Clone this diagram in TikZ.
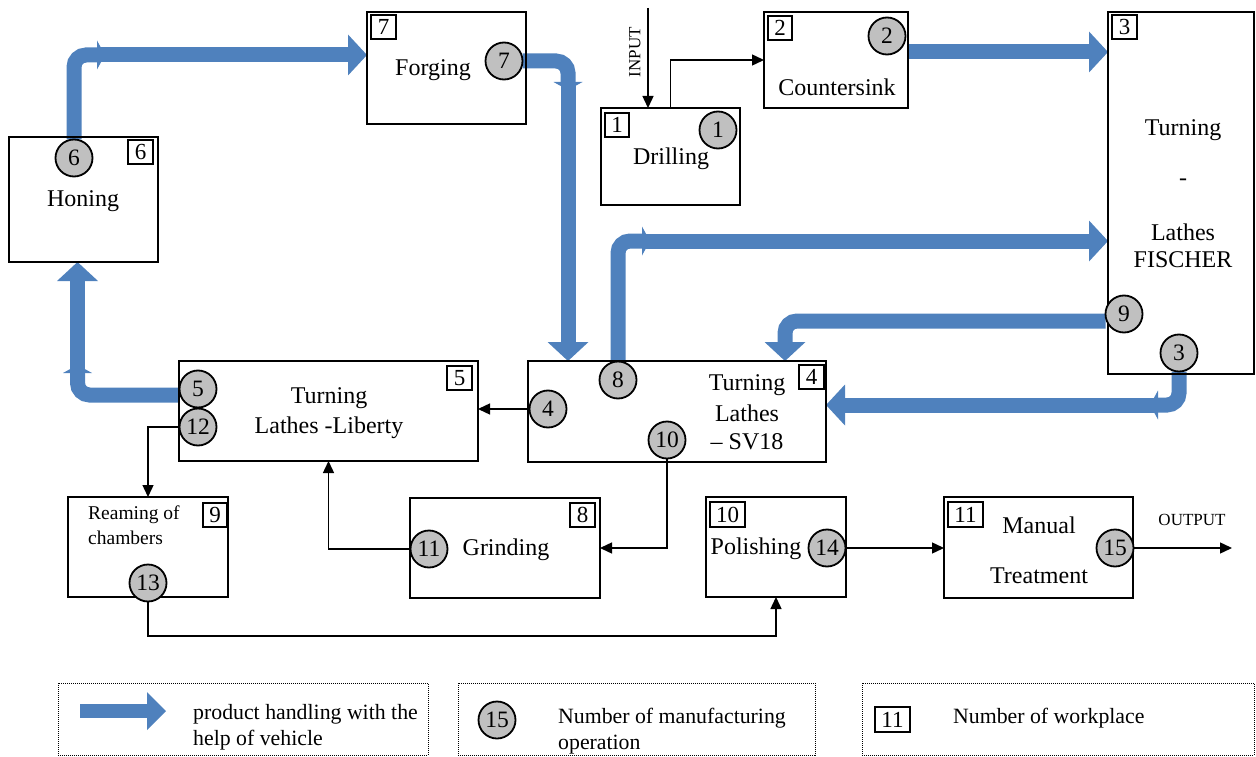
\documentclass[tikz,border=0pt]{standalone}
\usepackage{fontspec}
\setmainfont{Liberation Serif}
\usetikzlibrary{arrows.meta,calc}
\definecolor{vblue}{RGB}{79,129,189}
\definecolor{cgray}{RGB}{192,192,192}
\pgfdeclarelayer{bg}
\pgfsetlayers{bg,main}
\tikzset{
  box/.style={draw, line width=1.8pt, anchor=north west, inner sep=0pt, outer sep=0pt},
  wp/.style={draw, line width=1.6pt, anchor=north west, inner sep=0pt, outer sep=0pt, font=\fontsize{23}{23}\selectfont},
  op/.style={circle, draw, line width=1.8pt, fill=cgray, minimum size=37pt, inner sep=0pt, outer sep=0pt, font=\fontsize{23.5}{23.5}\selectfont},
  lbl/.style={inner sep=0pt, font=\fontsize{24}{28}\selectfont},
  small/.style={inner sep=0pt, font=\fontsize{19.5}{22}\selectfont},
  leg/.style={inner sep=0pt, anchor=west, font=\fontsize{21.8}{24}\selectfont},
  io/.style={inner sep=0pt, font=\fontsize{17}{19}\selectfont},
  veh/.style={color=vblue, line width=15pt, rounded corners=12pt, -{Triangle[width=41pt,length=19pt,line width'=0pt]}},
  vnotch/.style={color=vblue, line width=15pt, rounded corners=12pt, -{Triangle[width=29pt,length=8pt,line width'=0pt]}},
  arr/.style={draw, line width=1.4pt, -{Triangle[width=11pt,length=12pt]}},
  legbox/.style={draw, densely dotted, line width=1pt, anchor=north west, inner sep=0pt, outer sep=0pt},
}
\begin{document}
\begin{tikzpicture}[x=1pt, y=-1pt]
\useasboundingbox (0,0) rectangle (1256,757);

% ---- workplaces (boxes)
\node[box, minimum width=159pt, minimum height=112pt] (b7) at (367,12) {};
\node[box, minimum width=139pt, minimum height=97pt] (b1) at (601,108) {};
\node[box, minimum width=144pt, minimum height=96pt] (b2) at (764,12) {};
\node[box, minimum width=146pt, minimum height=362pt] (b3) at (1108,12) {};
\node[box, minimum width=149pt, minimum height=125pt] (b6) at (9,137) {};
\node[box, minimum width=299pt, minimum height=100pt] (b5) at (179,361) {};
\node[box, minimum width=298pt, minimum height=101pt] (b4) at (528,361) {};
\node[box, minimum width=160pt, minimum height=100pt] (b9) at (68,497) {};
\node[box, minimum width=190pt, minimum height=100pt] (b8) at (410,498) {};
\node[box, minimum width=140pt, minimum height=100pt] (b10) at (706,497) {};
\node[box, minimum width=189pt, minimum height=101pt] (b11) at (944,497) {};

% ---- workplace numbers
\node[wp, minimum width=25pt, minimum height=24pt] (w7) at (371,15) {7};
\node[wp, minimum width=24pt, minimum height=24pt] (w1) at (605,113) {1};
\node[wp, minimum width=24pt, minimum height=24pt] (w2) at (768,16) {2};
\node[wp, minimum width=25pt, minimum height=24pt] (w3) at (1112,15) {3};
\node[wp, minimum width=25pt, minimum height=24pt] (w6) at (128,140) {6};
\node[wp, minimum width=25pt, minimum height=24pt] (w5) at (447,366) {5};
\node[wp, minimum width=25pt, minimum height=24pt] (w4) at (799,365) {4};
\node[wp, minimum width=24pt, minimum height=24pt] (w9) at (203,503) {9};
\node[wp, minimum width=25pt, minimum height=24pt] (w8) at (570,503) {8};
\node[wp, minimum width=35pt, minimum height=25pt] (w10) at (710,502) {10};
\node[wp, minimum width=35pt, minimum height=25pt] (w11) at (948,502) {11};

% ---- operations (circles)
\node[op] (c7) at (504,61) {7};
\node[op] (c1) at (718,130) {1};
\node[op] (c2) at (887,36) {2};
\node[op] (c9) at (1124,314) {9};
\node[op] (c3) at (1179,353) {3};
\node[op] (c6) at (74,158) {6};
\node[op] (c5) at (198,389) {5};
\node[op] (c12) at (198,427) {12};
\node[op] (c8) at (618,380) {8};
\node[op] (c4) at (548,409) {4};
\node[op] (c10) at (667,440) {10};
\node[op] (c13) at (148,583) {13};
\node[op] (c11) at (429,549) {11};
\node[op] (c14) at (827,548) {14};
\node[op] (c15) at (1115,548) {15};

% ---- labels
\node[lbl] (t7) at (433,70) {Forging};
\node[lbl] (t1) at (671,159) {Drilling};
\node[lbl] (t2) at (837,87) {Countersink};
\node[lbl] (t3a) at (1183,130) {Turning};
\node[lbl] (t3b) at (1183,182) {-};
\node[lbl] (t3c) at (1183,232) {Lathes};
\node[lbl] (t3d) at (1183,260) {FISCHER};
\node[lbl] (t6) at (83,201) {Honing};
\node[lbl] (t5a) at (329,398) {Turning};
\node[lbl] (t5b) at (329,428) {Lathes -Liberty};
\node[lbl] (t4a) at (747,385) {Turning};
\node[lbl] (t4b) at (747,413) {Lathes};
\node[lbl] (t4c) at (747,442) {– SV18};
\node[small, anchor=west] (t9a) at (88,515) {Reaming of};
\node[small, anchor=west] (t9b) at (88,538) {chambers};
\node[lbl] (t8) at (506,550) {Grinding};
\node[lbl] (t10) at (756,549) {Polishing};
\node[lbl] (t11a) at (1039,525) {Manual};
\node[lbl] (t11b) at (1039,576) {Treatment};
\node[io, rotate=90] (tin) at (635,52) {INPUT};
\node[io] (tout) at (1192,520) {OUTPUT};

% ---- legend
\node[legbox, minimum width=370pt, minimum height=72pt] (L1) at (58,683) {};
\node[legbox, minimum width=357pt, minimum height=72pt] (L2) at (458,683) {};
\node[legbox, minimum width=392pt, minimum height=72pt] (L3) at (862,683) {};
\coordinate (la1) at (80,711);
\coordinate (la2) at (166,711);
\node[leg] (lt1a) at (193,714) {product handling with the};
\node[leg] (lt1b) at (193,740) {help of vehicle};
\node[op] (lc) at (497,720) {15};
\node[leg] (lt2a) at (558,718) {Number of manufacturing};
\node[leg] (lt2b) at (558,745) {operation};
\node[wp, minimum width=35pt, minimum height=25pt] (lw) at (875,707) {11};
\node[leg] (lt3) at (953,718) {Number of workplace};

% ---- coordinates for connectors
\coordinate (inp) at (648,8);
\coordinate (out) at (1232,548);
\coordinate (m13) at (148,636);
\coordinate (n1) at (105,55);
\coordinate (n1b) at (97,55);
\coordinate (n2) at (568,90);
\coordinate (n2b) at (568,82);
\coordinate (n3) at (650,241);
\coordinate (n3b) at (642,241);
\coordinate (n5) at (1150,405);
\coordinate (n5b) at (1158,405);
\coordinate (n6) at (77.5,365);
\coordinate (n6b) at (77.5,373);
\coordinate (s2) at ($(b2.north east)+(0,40)$);
\coordinate (s9) at ($(c9.west)+(0,7)$);
\coordinate (e9) at ($(b4.north west)+(257,0)$);
\coordinate (s5) at ($(c5.west)+(0,6)$);

\begin{pgfonlayer}{bg}
% vehicle handling (blue)
\draw[vnotch] (c6.north) |- (n1);
\draw[veh] (n1b) -- (b7.west |- n1b);
\draw[vnotch] (c7.east) -| (n2);
\draw[veh] (n2b) -- (b4.north -| n2b);
\draw[veh] (s2) -- (b3.west |- s2);
\draw[vnotch] (c8.north) |- (n3);
\draw[veh] (n3b) -- (b3.west |- n3b);
\draw[veh] (s9) -| (e9);
\draw[vnotch] (c3.south) |- (n5);
\draw[veh] (n5b) -- (b4.east |- n5b);
\draw[vnotch] (s5) -| (n6);
\draw[veh] (n6b) -- (b6.south -| n6b);
\draw[veh, line width=14pt, -{Triangle[width=38pt,length=19pt,line width'=0pt]}] (la1) -- (la2);
% material flow (thin)
\draw[arr] (inp) -- (inp |- b1.north);
\draw[arr] (b1.north) |- (b2.west);
\draw[arr] (c4.west) -- (c4.west -| b5.east);
\draw[arr] (c12.west) -| (b9.north);
\draw[arr] (c10.south) |- (b8.east);
\draw[arr] (c11.west) -| (b5.south);
\draw[arr] (c13.south) -- (m13) -| (b10.south);
\draw[arr] (c14.east) -- (c14.east -| b11.west);
\draw[arr] (c15.east) -- (out);
\end{pgfonlayer}
\end{tikzpicture}
\end{document}
